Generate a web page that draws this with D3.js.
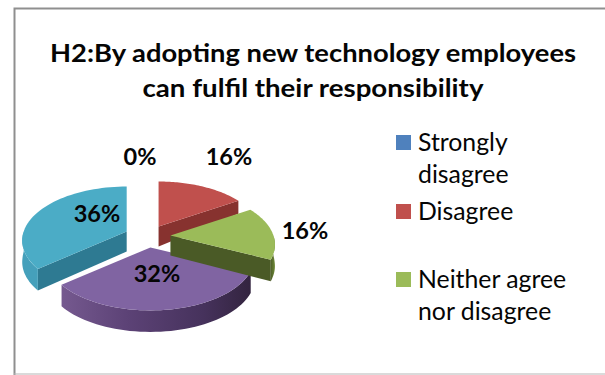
<!DOCTYPE html>
<html>
<head>
<meta charset="utf-8">
<script src="https://cdn.jsdelivr.net/npm/d3@7/dist/d3.min.js"></script>
<style>
html,body{margin:0;padding:0;background:#fff;}
svg{display:block;}
text{font-family:Lato,"Open Sans",sans-serif;fill:#050505;}
</style>
</head>
<body>
<svg id="chart" width="605" height="375"></svg>
<script>
// Survey responses
const categories = ["Strongly disagree", "Disagree", "Neither agree nor disagree", "Agree", "Strongly agree"];
const shares = [0, 16, 16, 32, 36];
const percentLabels = ["0%", "16%", "16%", "32%", "36%"];
const titleLines = ["H2:By adopting new technology employees", "can fulfil their responsibility"];
const legendLines = [["Strongly", "disagree"], ["Disagree"], ["Neither agree", "nor disagree"]];

const topColors = ["#4f81bd", "#c0504d", "#9bbb59", "#8064a2", "#4bacc6"];
const faceColors = ["#2f4d71", "#87322f", "#4a5a26", "#4a3560", "#2e7a92"];
const legendColors = topColors.slice(0, 3);

// Pie geometry on the tilted plane
const W = 605, H = 375;
const centre = {x: 147.5, y: 236.3};
const radiusX = 103, radiusY = 52.5, perspective = 0.167;
const explodeX = 23, explodeY = 11.2;
const wallHeight = 20;

const svg = d3.select("#chart").attr("viewBox", [0, 0, W, H]);

// Chart frame: heavy top and left rules, faint bottom rule
svg.append("path").attr("d", `M14.5,375V8.5H605`).attr("fill", "none").attr("stroke", "#8f8f8f").attr("stroke-width", 2);
svg.append("path").attr("d", `M14,374H605`).attr("fill", "none").attr("stroke", "#b5b5b5").attr("stroke-width", 1);

// Title
svg.append("g").selectAll("text").data(titleLines).join("text")
  .attr("x", 313).attr("y", (d, i) => 62 + i * 35)
  .attr("text-anchor", "middle").attr("font-weight", 700).attr("font-size", 25)
  .attr("textLength", (d, i) => [526, 341][i]).attr("lengthAdjust", "spacingAndGlyphs")
  .text(d => d);

// Slices
const pie = d3.pie().sort(null).value(d => d);
const arcs = pie(shares).map((a, i) => ({...a, i}));

const depthAt = a => {
  const y = -Math.cos(a);
  return Math.min(21.5, wallHeight + 13 * y);
};
function apexOf(s) {
  const m = (s.startAngle + s.endAngle) / 2;
  return [centre.x + explodeX * Math.sin(m), centre.y - explodeY * Math.cos(m)];
}
function rim(s, a) {
  const [ax, ay] = apexOf(s);
  const w = 1 / (1 + perspective * Math.cos(a));
  return [ax + radiusX * Math.sin(a) * w, ay - radiusY * Math.cos(a) * w];
}
const samples = (a0, a1) => d3.range(0, 49).map(k => a0 + (a1 - a0) * k / 48);
const line = d3.line();

// Shading across the outer wall of the large front slice
const defs = svg.append("defs");
const wallGrad = defs.append("linearGradient").attr("id", "wall3").attr("x1", 0).attr("x2", 1).attr("y1", 0).attr("y2", 0);
[[0, "#75598f"], [0.35, "#5c4276"], [0.75, "#46325c"], [1, "#33243f"]]
  .forEach(([o, c]) => wallGrad.append("stop").attr("offset", o).attr("stop-color", c));
const wallGradG = defs.append("linearGradient").attr("id", "wall2").attr("x1", 0).attr("x2", 1).attr("y1", 0).attr("y2", 0);
[[0, "#4d5f28"], [1, "#6f8a38"]].forEach(([o, c]) => wallGradG.append("stop").attr("offset", o).attr("stop-color", c));

const wallFill = {1: "#87322f", 2: "url(#wall2)", 3: "url(#wall3)", 4: "#45a0bb"};
const drawOrder = [1, 4, 3, 2];
const gPie = svg.append("g");

drawOrder.map(i => arcs[i]).filter(s => s.value > 0).forEach(s => {
  const g = gPie.append("g");
  const apex = apexOf(s);
  const rimPts = samples(s.startAngle, s.endAngle).map(a => rim(s, a));

  // Radial faces that turn toward the viewer
  const radial = a => {
    const p = rim(s, a);
    return line([apex, p, [p[0], p[1] + depthAt(a)], [apex[0], apex[1] + wallHeight]]) + "Z";
  };
  if (s.endAngle < Math.PI) g.append("path").attr("d", radial(s.endAngle)).attr("fill", faceColors[s.i]);
  if (s.startAngle > Math.PI) g.append("path").attr("d", radial(s.startAngle)).attr("fill", faceColors[s.i]);

  // Outer wall over the front half of the rim
  const w0 = Math.max(s.startAngle, Math.PI / 2), w1 = Math.min(s.endAngle, Math.PI * 1.5);
  if (w1 > w0) {
    const as = samples(w0, w1);
    const up = as.map(a => rim(s, a));
    const down = as.map(a => { const p = rim(s, a); return [p[0], p[1] + depthAt(a)]; }).reverse();
    g.append("path").attr("d", line(up.concat(down)) + "Z").attr("fill", wallFill[s.i]);
  }

  // Top face
  g.append("path").attr("d", line([apex, ...rimPts]) + "Z").attr("fill", topColors[s.i]);
});

// Percentage labels
const labelSpots = [[140, 165], [229, 165], [305, 239], [157, 282], [97, 222]];
svg.append("g").selectAll("text").data(percentLabels).join("text")
  .attr("x", (d, i) => labelSpots[i][0]).attr("y", (d, i) => labelSpots[i][1])
  .attr("text-anchor", "middle").attr("font-weight", 700).attr("font-size", 23.5)
  .text(d => d);

// Legend
const legendTops = [135, 204, 272];
const legend = svg.append("g").selectAll("g").data(legendLines).join("g")
  .attr("transform", (d, i) => `translate(396,${legendTops[i]})`);
legend.append("rect").attr("width", 15).attr("height", 15).attr("fill", (d, i) => legendColors[i]);
legend.selectAll("text").data(d => d).join("text")
  .attr("x", 22).attr("y", (d, i) => 16 + i * 32)
  .attr("font-size", 24.8)
  .text(d => d);
</script>
</body>
</html>
